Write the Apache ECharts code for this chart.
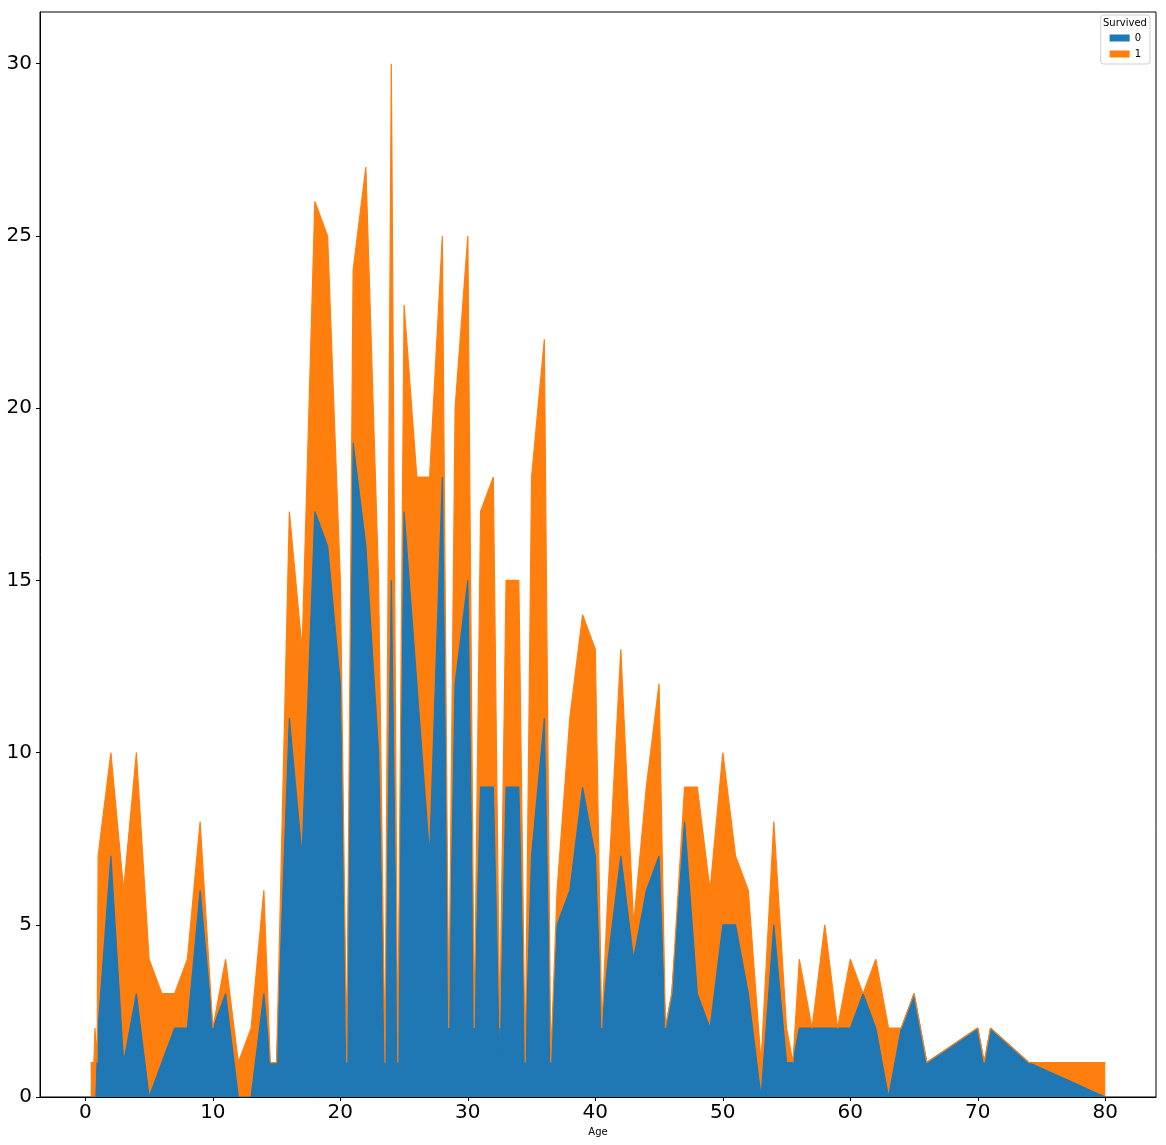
<!DOCTYPE html>
<html>
<head>
<meta charset="utf-8">
<script src="https://cdn.jsdelivr.net/npm/echarts@6/dist/echarts.min.js"></script>
<style>
html,body{margin:0;padding:0;background:#fff;}
#chart{width:1166px;height:1145px;}
</style>
</head>
<body>
<div id="chart"></div>
<script>
var ages = [0.42,0.67,0.75,0.83,0.92,1,2,3,4,5,6,7,8,9,10,11,12,13,14,14.5,15,16,17,18,19,20,20.5,21,22,23,23.5,24,24.5,25,26,27,28,28.5,29,30,30.5,31,32,32.5,33,34,34.5,35,36,36.5,37,38,39,40,40.5,41,42,43,44,45,45.5,46,47,48,49,50,51,52,53,54,55,55.5,56,57,58,59,60,61,62,63,64,65,66,70,70.5,71,74,80];
var died = [0,0,0,0,0,2,7,1,3,0,1,2,2,6,2,3,0,0,3,1,1,11,7,17,16,12,1,19,16,10,1,15,1,17,12,7,18,2,12,15,2,9,9,1,9,9,1,7,11,1,5,6,9,7,2,4,7,4,6,7,2,3,8,3,2,5,5,3,0,5,1,1,2,2,2,2,2,3,2,0,2,3,1,2,1,2,1,0];
var survived = [1,1,2,2,1,5,3,5,7,4,2,1,2,2,0,1,1,2,3,0,0,6,6,9,9,3,0,5,11,5,0,15,0,6,6,11,7,0,8,10,0,8,9,1,6,6,0,11,11,0,1,5,5,6,0,2,6,1,3,5,0,0,1,6,4,5,2,3,1,3,1,0,2,0,3,0,2,0,2,2,0,0,0,0,0,0,0,1];
var seriesNames = ['0','1'];
var xTicks = [0,10,20,30,40,50,60,70,80];
var yTicks = [0,5,10,15,20,25,30];

var FONT = 'DejaVu Sans';
var C0 = '#1f77b4', C1 = '#ff7f0e';
// stacked top of series "1" = died + survived (stacking done here)
var diedPts = ages.map(function(a,i){ return [a, died[i]]; });
var totalPts = ages.map(function(a,i){ return [a, died[i] + survived[i]]; });

var chart = echarts.init(document.getElementById('chart'), null, {renderer:'canvas'});
chart.setOption({
  animation: false,
  backgroundColor: '#fff',
  grid: {left: 40, right: 10, top: 12, bottom: 48, show: true, borderColor: '#000', borderWidth: 1, containLabel: false},
  legend: {
    orient: 'vertical', right: 16, top: 15,
    data: seriesNames,
    icon: 'rect', itemWidth: 20, itemHeight: 7, itemGap: 4,
    padding: [17, 9, 4, 9],
    backgroundColor: '#fff', borderColor: '#d0d0d0', borderWidth: 1, borderRadius: 3,
    textStyle: {fontFamily: FONT, fontSize: 10, lineHeight: 12, color: '#000'}
  },
  graphic: [{
    type: 'text', left: 1103, top: 18, z: 100,
    style: {text: 'Survived', fontFamily: FONT, fontSize: 10, fill: '#000'}
  }],
  xAxis: {
    type: 'value', min: -3.559, max: 83.979,
    name: 'Age', nameLocation: 'middle', nameGap: 30,
    nameTextStyle: {fontFamily: FONT, fontSize: 10, color: '#000'},
    axisLine: {show: true, onZero: false, lineStyle: {color: '#000', width: 1}},
    axisTick: {show: true, length: 4, lineStyle: {color: '#000'}, customValues: xTicks},
    axisLabel: {fontFamily: FONT, fontSize: 20, color: '#000', margin: 6, customValues: xTicks},
    splitLine: {show: false}
  },
  yAxis: {
    type: 'value', min: 0, max: 31.5,
    axisLine: {show: true, onZero: false, lineStyle: {color: '#000', width: 1}},
    axisTick: {show: true, length: 4, lineStyle: {color: '#000'}, customValues: yTicks},
    axisLabel: {fontFamily: FONT, fontSize: 20, color: '#000', margin: 8, customValues: yTicks},
    splitLine: {show: false}
  },
  series: [
    {name: seriesNames[1], type: 'line', data: totalPts, z: 1,
     showSymbol: false, symbol: 'none', color: C1,
     lineStyle: {width: 0, opacity: 0},
     areaStyle: {color: C1, opacity: 1}},
    {name: seriesNames[0], type: 'line', data: diedPts, z: 2,
     showSymbol: false, symbol: 'none', color: C0,
     lineStyle: {color: C0, width: 1.2},
     areaStyle: {color: C0, opacity: 1}},
    {name: seriesNames[1], type: 'line', data: totalPts, z: 3,
     showSymbol: false, symbol: 'none', color: C1,
     lineStyle: {color: C1, width: 1.2}}
  ]
});
</script>
</body>
</html>
